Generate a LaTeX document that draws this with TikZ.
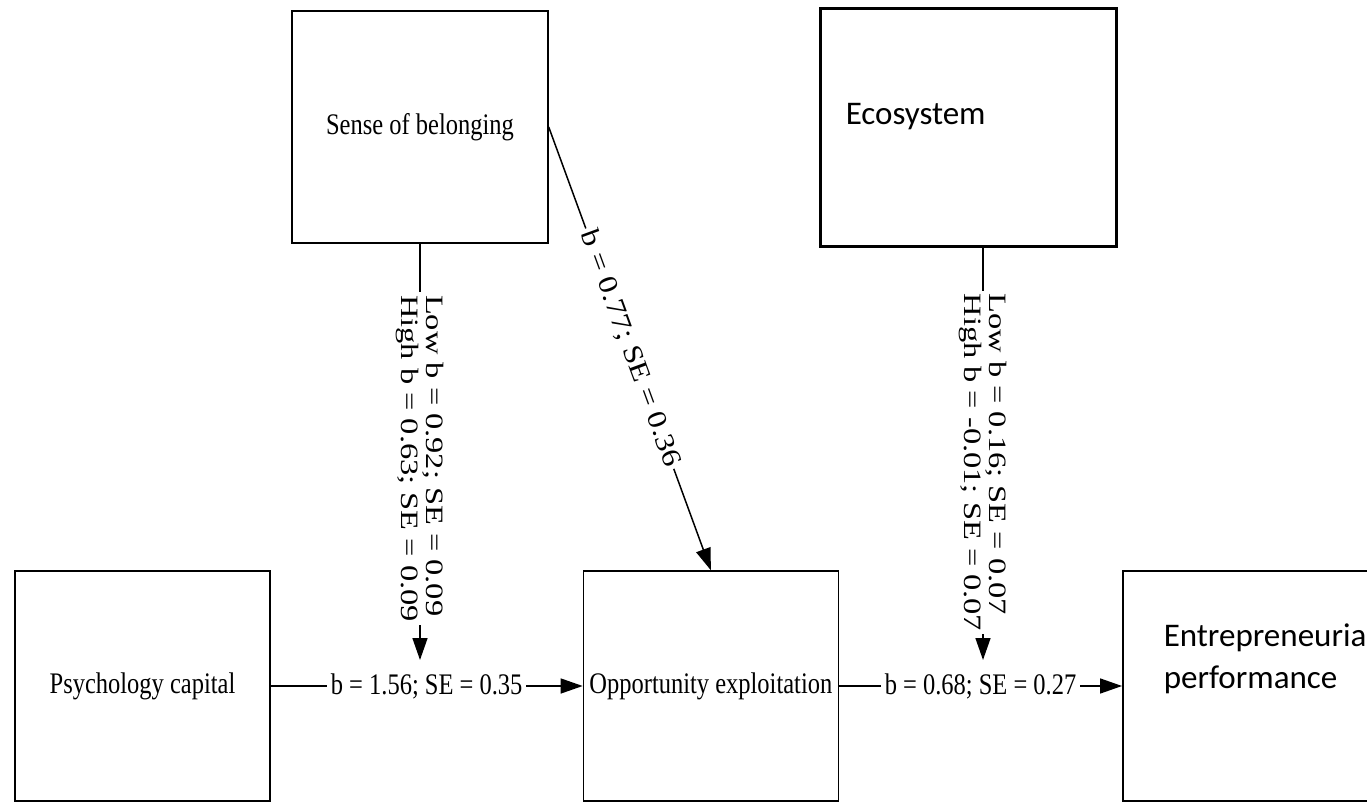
\documentclass[tikz,border=0pt]{standalone}
\usepackage{fontspec}
\setmainfont{Liberation Serif}
\newfontfamily\narrowserif[FakeStretch=0.82]{Liberation Serif}
\newfontfamily\wideserif[FakeStretch=1.3]{Liberation Serif}
\newfontfamily\slopeserif[FakeStretch=1.18]{Liberation Serif}
\newfontfamily\boxsans{Carlito}
\usetikzlibrary{positioning, arrows.meta}

\begin{document}
\begin{tikzpicture}[x=0.02cm, y=-0.02cm, line width=0.85pt,
      construct/.style={rectangle, draw, minimum width=5.1cm, minimum height=4.6cm, font=\narrowserif\fontsize{17}{20}\selectfont},
      sanslabel/.style={inner sep=0pt, align=left, font=\boxsans\fontsize{18.8}{24}\selectfont},
      effect/.style={-{Triangle[length=0.44cm, width=0.3cm]}},
      coef/.style={fill=white, inner sep=0.08cm, font=\narrowserif\fontsize{17}{20}\selectfont},
      modcoef/.style={fill=white, inner sep=0.06cm, rotate=-90, align=left, font=\wideserif\fontsize{14.2}{14}\selectfont},
      slopecoef/.style={fill=white, inner sep=0.06cm, sloped, font=\slopeserif\fontsize{15.4}{18}\selectfont}
    ]
      \useasboundingbox (0,0) rectangle (1367,804);
      \node[construct, minimum width=5.12cm, minimum height=4.64cm] (belong) at (420,127) {Sense of belonging};
      \node[construct, minimum width=5.94cm, minimum height=4.78cm, line width=1.7pt] (eco) at (968.5,127.5) {};
      \node[sanslabel, anchor=west] (ecotext) at (845,117) {Ecosystem};

      \node[construct] (psych) at (142.5,686) {Psychology capital};
      \node[construct, right=6.24cm of psych] (opp) {Opportunity exploitation};
      \node[construct, right=5.66cm of opp] (perf) {};
      \node[sanslabel, anchor=west] (perftext) at (1163,659) {Entrepreneurial\\performance};

      \coordinate (belongtip) at (420,660);
      \coordinate (ecotip) at (983,660);

      \draw[effect] (psych) -- node[coef] {b = 1.56; SE = 0.35} (opp);
      \draw[effect] (opp) -- node[coef] {b = 0.68; SE = 0.27} (perf);
      \draw[effect] (belong.south) -- node[modcoef, pos=0.516] {Low b = 0.92; SE = 0.09\\High b = 0.63; SE = 0.09} (belongtip);
      \draw[effect] (eco.south -| ecotip) -- node[modcoef, pos=0.52] {Low b = 0.16; SE = 0.07\\High b = -0.01; SE = 0.07} (ecotip);
      \draw[effect] (belong.east) -- node[slopecoef] {b = 0.77; SE = 0.36} (opp.north);
    \end{tikzpicture}
\end{document}
